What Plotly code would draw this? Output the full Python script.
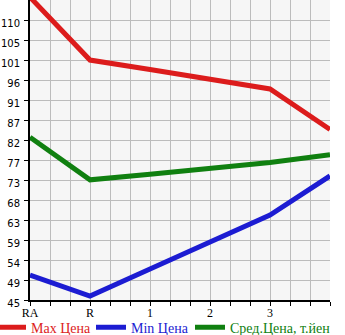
import plotly.graph_objects as go

categories = ["RA", "R", "1", "2", "3", ""]
max_price = [115.3, 100.7, 98.5, 96.2, 94.0, 84.6]
min_price = [50.8, 45.9, 52.2, 58.5, 64.7, 73.8]
avg_price = [82.8, 72.9, 74.2, 75.5, 76.9, 78.7]
y_tick_labels = ["45", "49", "54", "59", "63", "68", "73", "77", "82", "87", "91", "96", "101", "105", "110"]

y_min = 45.0
y_step = 65.0 / 14
y_vals = [y_min + i * y_step for i in range(len(y_tick_labels))]
y_max = y_min + len(y_tick_labels) * y_step

xs = list(range(len(categories)))

x_tickvals = [i / 3 for i in range(3 * (len(categories) - 1) + 1)]
x_ticktext = [categories[i // 3] if i % 3 == 0 else "" for i in range(len(x_tickvals))]

series = [
    ("Max Цена", max_price, "#dc1c1c"),
    ("Min Цена", min_price, "#1c1cd2"),
    ("Сред.Цена, т.йен", avg_price, "#108010"),
]
legend_text_x = [31, 131, 230]  # pixel start of each legend text

W, H = 345, 335
ML, MR, MT, MB = 30, 15, 0, 35
PW = W - ML - MR
fig = go.Figure()
legend_layout = {}
for i, (name, vals, col) in enumerate(series):
    lname = "legend" if i == 0 else "legend%d" % (i + 1)
    fig.add_trace(go.Scatter(
        x=xs, y=vals, mode="lines",
        name='<span style="color:%s">%s</span>' % (col, name),
        line=dict(color=col, width=5),
        legend=lname,
    ))
    legend_layout[lname] = dict(
        orientation="h", xref="paper", x=(legend_text_x[i] - 40 - ML) / PW, xanchor="left",
        yref="container", y=0.07, yanchor="top",
        font=dict(family="Liberation Serif", size=14),
        itemwidth=30, tracegroupgap=0,
        bgcolor="rgba(0,0,0,0)",
    )

fig.update_layout(
    width=W, height=H,
    margin=dict(l=ML, r=MR, t=MT, b=MB, autoexpand=False),
    paper_bgcolor="white",
    plot_bgcolor="#f6f6f6",
    showlegend=True,
    font=dict(family="Liberation Serif", size=12, color="black"),
    **legend_layout,
)
fig.update_xaxes(
    range=[0, len(categories) - 1],
    tickmode="array", tickvals=x_tickvals, ticktext=x_ticktext,
    showgrid=True, gridcolor="#bcbcbc", gridwidth=1,
    showline=True, linecolor="black", linewidth=2,
    ticks="outside", ticklen=4, tickcolor="black", tickwidth=1,
    tickfont=dict(family="Liberation Serif", size=12),
    ticklabelstandoff=-3,
    zeroline=False, fixedrange=True,
)
fig.update_yaxes(
    range=[y_min, y_max],
    tickmode="array", tickvals=y_vals, ticktext=y_tick_labels,
    showgrid=True, gridcolor="#bcbcbc", gridwidth=1,
    showline=True, linecolor="black", linewidth=2,
    ticks="outside", ticklen=4, tickcolor="black", tickwidth=1,
    tickfont=dict(family="DejaVu Sans", size=10),
    ticklabelstandoff=2, ticklabelshift=3,
    zeroline=False, fixedrange=True,
)

fig.write_html("out.html")
